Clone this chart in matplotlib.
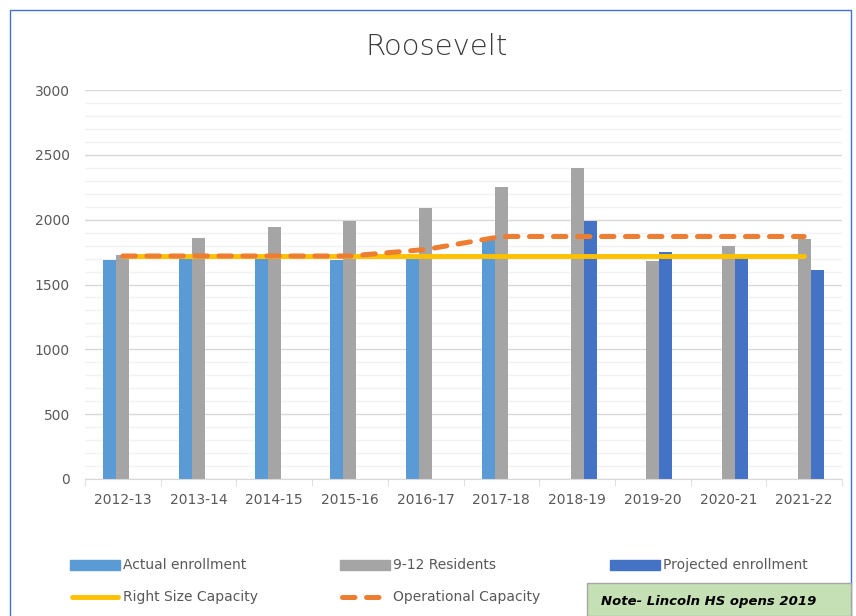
import matplotlib.pyplot as plt
import numpy as np
from matplotlib.lines import Line2D
from matplotlib.patches import Patch, Rectangle

# data
years = ['2012-13', '2013-14', '2014-15', '2015-16', '2016-17',
         '2017-18', '2018-19', '2019-20', '2020-21', '2021-22']
actual = [1690, 1700, 1695, 1690, 1700, 1845, np.nan, np.nan, np.nan, np.nan]
residents = [1728, 1856, 1940, 1990, 2092, 2254, 2395, 1683, 1794, 1850]
projected = [np.nan, np.nan, np.nan, np.nan, np.nan, np.nan, 1992, 1750, 1715, 1612]
right_size = [1720] * 10
operational = [1720, 1720, 1720, 1720, 1770, 1870, 1870, 1870, 1870, 1870]

c_actual = '#5B9BD5'
c_res = '#A5A5A5'
c_proj = '#4472C4'
c_right = '#FFC000'
c_oper = '#ED7D31'
txt = '#595959'
dash = (0, (2.5, 2.3))

fig = plt.figure(figsize=(8.56, 6.16), dpi=100)
ax = fig.add_axes([85 / 856, 1 - 479 / 616, (842 - 85) / 856, (479 - 90) / 616])

x = np.arange(len(years))
w = 0.172
ax.bar(x - w, actual, w, color=c_actual, zorder=2)
ax.bar(x, residents, w, color=c_res, zorder=2)
ax.bar(x + w, projected, w, color=c_proj, zorder=2)

ax.plot(x, right_size, color=c_right, lw=3.5, solid_capstyle='round', zorder=3)
ax.plot(x, operational, color=c_oper, lw=3.6, ls=dash,
        dash_capstyle='round', zorder=4)

ax.set_xlim(-0.5, 9.5)
ax.set_ylim(0, 3000)
ax.set_yticks(np.arange(0, 3001, 500))
ax.set_yticks(np.arange(0, 3001, 100), minor=True)
ax.grid(True, axis='y', which='major', color='#D9D9D9', lw=1, zorder=0)
ax.grid(True, axis='y', which='minor', color='#F2F2F2', lw=1, zorder=0)
ax.set_axisbelow(True)

ax.set_xticks(x)
ax.set_xticklabels(years)
ax.set_xticks(np.arange(-0.5, 10, 1), minor=True)
ax.tick_params(axis='x', which='major', length=0, pad=10, labelsize=10, labelcolor=txt)
ax.tick_params(axis='x', which='minor', length=5, color='#D9D9D9', direction='out')
ax.tick_params(axis='y', which='both', length=0, pad=11, labelsize=10, labelcolor=txt)

for s in ['top', 'right', 'left']:
    ax.spines[s].set_visible(False)
ax.spines['bottom'].set_color('#D9D9D9')

fig.text(437 / 856, 1 - 47 / 616, 'Roosevelt', ha='center', va='center',
         fontsize=21, color='#3A3A3A', fontweight='light')

# legend, laid out like the Excel one
handles = [Patch(color=c_actual), Patch(color=c_res), Patch(color=c_proj)]
labels = ['Actual enrollment', '9-12 Residents', 'Projected enrollment']
xs = [70, 340, 610]
for hx, h, lab in zip(xs, handles, labels):
    fig.patches.append(Rectangle((hx / 856, 1 - 570 / 616), 50 / 856, 10 / 616,
                                 color=h.get_facecolor(), transform=fig.transFigure))
    fig.text((hx + 53) / 856, 1 - 565 / 616, lab, va='center', fontsize=10, color=txt)

fig.add_artist(Line2D([72 / 856, 118 / 856], [1 - 597 / 616] * 2, color=c_right,
                      lw=3.5, solid_capstyle='round'))
fig.text(123 / 856, 1 - 597 / 616, 'Right Size Capacity', va='center', fontsize=10, color=txt)
fig.add_artist(Line2D([342 / 856, 387 / 856], [1 - 597 / 616] * 2, color=c_oper,
                      lw=3.6, ls=dash, dash_capstyle='round'))
fig.text(393 / 856, 1 - 597 / 616, 'Operational Capacity', va='center', fontsize=10, color=txt)

# note box
fig.patches.append(Rectangle((587 / 856, 0), (851 - 587) / 856, (616 - 583) / 616,
                             facecolor='#C5E0B4', edgecolor='#A6A6A6', lw=1,
                             transform=fig.transFigure))
fig.text(709 / 856, 1 - 601 / 616, 'Note- Lincoln HS opens 2019', ha='center',
         va='center', fontsize=9.5, fontweight='bold', fontstyle='italic', color='black')

# chart frame
fig.patches.append(Rectangle((10 / 856, -0.01), (851 - 10) / 856, 1 - 10 / 616 + 0.01,
                             fill=False, edgecolor='#4472C4', lw=1,
                             transform=fig.transFigure, zorder=0))

fig.savefig('out.png', dpi=100)
